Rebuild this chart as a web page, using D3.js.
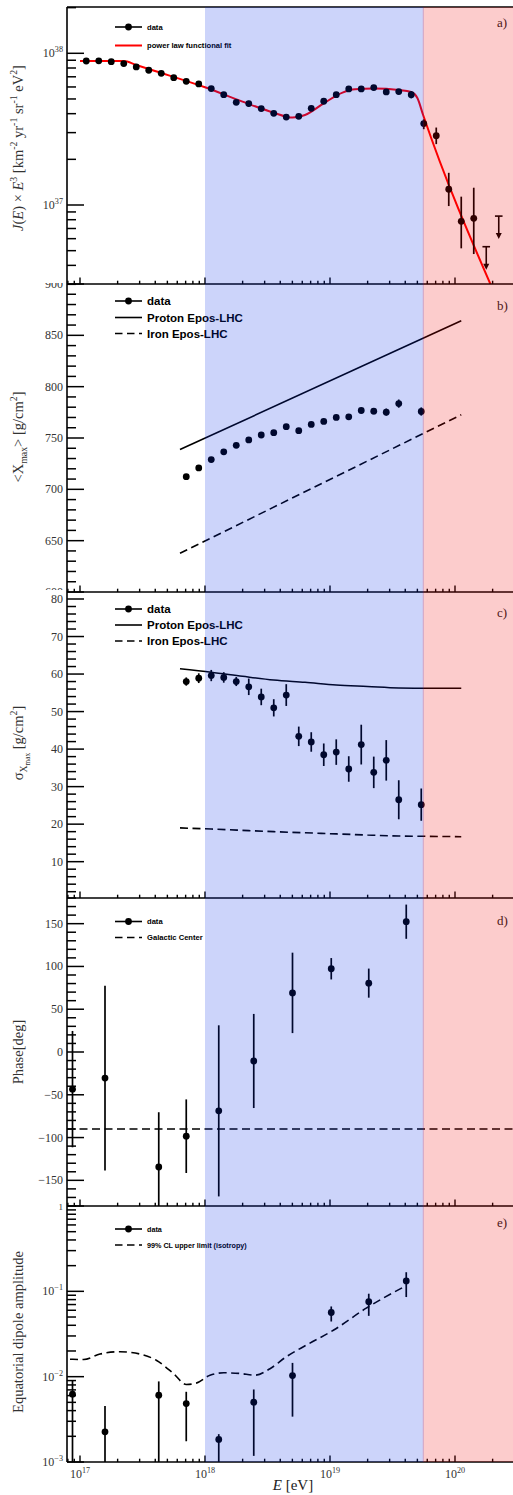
<!DOCTYPE html>
<html><head><meta charset="utf-8">
<script src="https://cdn.jsdelivr.net/npm/d3@7/dist/d3.min.js"></script>
<style>body{margin:0;background:#fff}svg{display:block}</style>
</head><body>
<svg id="c" width="513" height="1495"></svg>
<script>
// ---------------- DATA ----------------
// a) spectrum  (J x E^3, units of 1e37 km^-2 yr^-1 sr^-1 eV^2)
const specLogE = [17.05,17.15,17.25,17.35,17.45,17.55,17.65,17.75,17.85,17.95,18.05,18.15,18.25,18.35,18.45,18.55,18.65,18.75,18.85,18.95,19.05,19.15,19.25,19.35,19.45,19.55,19.65,19.75,19.85,19.95,20.05,20.15];
const specVal  = [8.90,8.92,8.81,8.55,8.13,7.73,7.38,6.91,6.54,6.28,5.85,5.34,4.75,4.66,4.32,4.02,3.80,3.84,4.34,4.83,5.34,5.82,5.82,5.94,5.56,5.59,5.34,3.44,2.86,1.27,0.78,0.817];
const specUp   = [0.05,0.05,0.05,0.05,0.05,0.05,0.05,0.05,0.05,0.05,0.06,0.07,0.12,0.20,0.08,0.07,0.08,0.09,0.10,0.11,0.12,0.13,0.14,0.16,0.18,0.20,0.30,0.23,0.38,0.36,0.355,0.483];
const specDn   = [0.05,0.05,0.05,0.05,0.05,0.05,0.05,0.05,0.05,0.05,0.06,0.07,0.12,0.20,0.08,0.07,0.08,0.09,0.10,0.11,0.12,0.13,0.14,0.16,0.18,0.20,0.30,0.28,0.34,0.286,0.262,0.342];
const specULLogE = [20.25,20.35];
const specULVal  = [0.531,0.845];
const fitLogE = [17.0,17.35,17.45,17.6,18.0,18.3,18.55,18.7,18.8,18.95,19.1,19.2,19.35,19.55,19.65,19.7,19.745,20.3];
const fitVal  = [8.90,8.90,8.38,7.65,5.97,4.80,4.06,3.77,3.92,4.68,5.51,5.79,5.85,5.73,5.56,5.05,3.92,0.28];

// b) <Xmax>, c) sigma(Xmax)
const xmaxLogE = [17.85,17.95,18.05,18.15,18.25,18.35,18.45,18.55,18.65,18.75,18.85,18.95,19.05,19.15,19.25,19.35,19.45,19.55,19.73];
const xmaxVal  = [712.3,720.9,729.0,736.5,742.9,748.1,752.9,755.2,761.0,757.1,763.2,766.1,770.0,770.6,776.8,776.1,775.2,783.5,775.8];
const xmaxErr  = [1,1,1,1,1,1,1,1.2,1.3,1.4,1.5,1.6,1.8,2,2.5,3,3.5,4,4];
const modelXmaxLogE = [17.8,20.05];
const protonXmax = [738.7,864.2];
const ironXmax   = [637.7,772.6];
const sigmaVal = [58.0,58.9,59.6,59.1,58.0,56.6,53.9,51.0,54.4,43.4,41.9,38.5,39.2,34.7,41.2,33.8,37.0,26.5,25.2];
const sigmaErr = [1.1,1.3,1.5,1.4,1.2,2.2,2.2,2.3,2.9,2.6,2.6,3.0,3.4,3.4,5.3,4.2,5.4,5.2,4.3];
const modelSigLogE = [17.8,18.05,18.3,18.55,18.8,19.05,19.3,19.55,19.8,20.05];
const protonSigma = [61.4,60.5,59.4,58.4,57.8,57.1,56.7,56.3,56.2,56.2];
const ironSigma   = [19.0,18.7,18.35,18.0,17.7,17.4,17.1,16.84,16.75,16.66];

// d) phase, e) amplitude of equatorial dipole
const dipLogE  = [16.94,17.20,17.63,17.85,18.11,18.39,18.70,19.01,19.31,19.61];
const phaseVal = [-43.4,-30.5,-134.4,-98.4,-68.8,-10.5,69.1,97.3,80.5,152.3];
const phaseErr = [68,108,64,43,100,55,47,12.5,17,20];
const galacticCenterPhase = -90;
const ampVal = [6.24e-3,2.26e-3,6.07e-3,4.84e-3,1.84e-3,5.02e-3,1.03e-2,5.65e-2,7.55e-2,0.1324];
const ampHi  = [9.05e-3,4.54e-3,8.8e-3,6.65e-3,2.12e-3,7.08e-3,1.45e-2,6.65e-2,9.38e-2,0.1675];
const ampLo  = [5e-4,5e-4,5e-4,1.75e-3,5e-4,1.18e-3,3.4e-3,4.43e-2,5.16e-2,8.57e-2];
const ulLogE = [16.92,17.03,17.16,17.32,17.48,17.61,17.75,17.85,17.93,18.04,18.15,18.28,18.40,18.52,18.65,18.81,19.03,19.29,19.61];
const ulVal  = [0.0160,0.0159,0.0184,0.0196,0.0184,0.0156,0.0108,0.0081,0.0084,0.0104,0.0111,0.0109,0.0104,0.0124,0.0171,0.0234,0.0352,0.0635,0.1167];

// bands (eV)
const bandBlue = [1e18, 5.58e19];
const xTickLabels = ["17","18","19","20"];

// ---------------- LAYOUT ----------------
const svg = d3.select('#c');
const serif = '"Liberation Serif","Times New Roman",serif';
const sans = '"Liberation Sans",Arial,Helvetica,sans-serif';
const L = 67, R = 513;
const E = v => Math.pow(10, v);
const x = d3.scaleLog().domain([1e17,1e20]).range([80,455]);

const panels = [
  {top:7,    bottom:284,  padTop:0,    padBottom:283,  y:d3.scaleLog().domain([1e37,1e38]).range([205,53.3])},
  {top:284,  bottom:592,  padTop:283,  padBottom:590,  y:d3.scaleLinear().domain([600,900]).range([592,284])},
  {top:592,  bottom:898,  padTop:590,  padBottom:897,  y:d3.scaleLinear().domain([0,80]).range([899.2,599])},
  {top:898,  bottom:1206, padTop:897,  padBottom:1204, y:d3.scaleLinear().domain([-180,180]).range([1206,898])},
  {top:1206, bottom:1462, padTop:1204, padBottom:1495, y:d3.scaleLog().domain([1e-3,1]).range([1462,1206])}
];
const defs = svg.append('defs');
panels.forEach((p,i)=>{
  defs.append('clipPath').attr('id','plot'+i).append('rect')
    .attr('x',L).attr('y',p.top).attr('width',R-L+5).attr('height',p.bottom-p.top);
  defs.append('clipPath').attr('id','pad'+i).append('rect')
    .attr('x',0).attr('y',p.padTop).attr('width',513).attr('height',p.padBottom-p.padTop);
});

function rich(t, parts, fs){
  let cur = 0;
  parts.forEach(pt=>{
    const target = pt.sup ? -fs*0.42 : (pt.sub ? fs*0.28 : (pt.sub2 ? fs*0.45 : 0));
    const ts = t.append('tspan').text(pt.t).attr('dy', target-cur);
    if (pt.sup || pt.sub) ts.attr('font-size', fs*0.68);
    if (pt.sub2) ts.attr('font-size', fs*0.5);
    if (pt.it) ts.attr('font-style','italic');
    cur = target;
  });
}

function errBars(g, xs, ys, lo, hi, y){
  g.selectAll(null).data(xs).enter().append('line')
    .attr('x1',(d)=>x(E(d))).attr('x2',(d)=>x(E(d)))
    .attr('y1',(d,i)=>y(hi[i])).attr('y2',(d,i)=>y(lo[i]))
    .attr('stroke','#000').attr('stroke-width',1.7);
  g.selectAll(null).data(xs).enter().append('circle')
    .attr('cx',(d)=>x(E(d))).attr('cy',(d,i)=>y(ys[i])).attr('r',3.4).attr('fill','#000');
}

function legend(i, y, kind, label, fs){
  const g = svg.append('g');
  const ln = g.append('line').attr('x1',115).attr('x2',142).attr('y1',y).attr('y2',y)
    .attr('stroke', kind==='red' ? '#ff0000' : '#000')
    .attr('stroke-width', kind==='red' ? 2 : 1.6);
  if (kind==='dash') ln.attr('stroke-dasharray','7.5,4.5');
  if (kind==='data') g.append('circle').attr('cx',128.5).attr('cy',y).attr('r',3.4).attr('fill','#000');
  g.append('text').attr('x',147).attr('y',y+fs*0.36).attr('font-family',sans).attr('font-weight','bold')
    .attr('font-size',fs).attr('fill','#000').text(label);
}

// ---------- panel a ----------
{
  const p = panels[0], y = p.y, g = svg.append('g').attr('clip-path','url(#plot0)');
  const line = d3.line().x(d=>x(E(d[0]))).y(d=>y(d[1]*1e37)).curve(d3.curveMonotoneX);
  g.append('path').datum(fitLogE.map((d,i)=>[d,fitVal[i]])).attr('d',line)
    .attr('fill','none').attr('stroke','#ff0000').attr('stroke-width',2);
  errBars(g, specLogE, specVal.map(v=>v*1e37),
    specVal.map((v,i)=>(v-specDn[i])*1e37), specVal.map((v,i)=>(v+specUp[i])*1e37), y);
  specULLogE.forEach((d,i)=>{
    const xx = x(E(d)), yy = y(specULVal[i]*1e37);
    g.append('line').attr('x1',xx-3.8).attr('x2',xx+3.8).attr('y1',yy).attr('y2',yy).attr('stroke','#000').attr('stroke-width',1.6);
    g.append('line').attr('x1',xx).attr('x2',xx).attr('y1',yy).attr('y2',yy+19).attr('stroke','#000').attr('stroke-width',1.6);
    g.append('path').attr('d',`M${xx-3},${yy+17}L${xx+3},${yy+17}L${xx},${yy+23}Z`).attr('fill','#000');
  });
  legend(0, 27, 'data', 'data', 7.6);
  legend(0, 45.5, 'red', 'power law functional fit', 7.6);
}
// ---------- panel b ----------
{
  const p = panels[1], y = p.y, g = svg.append('g').attr('clip-path','url(#plot1)');
  const mk = arr => modelXmaxLogE.map((d,i)=>[d,arr[i]]);
  const line = d3.line().x(d=>x(E(d[0]))).y(d=>y(d[1]));
  g.append('path').datum(mk(protonXmax)).attr('d',line).attr('fill','none').attr('stroke','#000').attr('stroke-width',1.6);
  g.append('path').datum(mk(ironXmax)).attr('d',line).attr('fill','none').attr('stroke','#000').attr('stroke-width',1.6).attr('stroke-dasharray','8,4.5');
  errBars(g, xmaxLogE, xmaxVal, xmaxVal.map((v,i)=>v-xmaxErr[i]), xmaxVal.map((v,i)=>v+xmaxErr[i]), y);
  legend(1, 301, 'data', 'data', 11.5);
  legend(1, 317.5, 'line', 'Proton Epos-LHC', 11.5);
  legend(1, 333.5, 'dash', 'Iron Epos-LHC', 11.5);
}
// ---------- panel c ----------
{
  const p = panels[2], y = p.y, g = svg.append('g').attr('clip-path','url(#plot2)');
  const mk = arr => modelSigLogE.map((d,i)=>[d,arr[i]]);
  const line = d3.line().x(d=>x(E(d[0]))).y(d=>y(d[1])).curve(d3.curveMonotoneX);
  g.append('path').datum(mk(protonSigma)).attr('d',line).attr('fill','none').attr('stroke','#000').attr('stroke-width',1.6);
  g.append('path').datum(mk(ironSigma)).attr('d',line).attr('fill','none').attr('stroke','#000').attr('stroke-width',1.6).attr('stroke-dasharray','8,4.5');
  errBars(g, xmaxLogE, sigmaVal, sigmaVal.map((v,i)=>v-sigmaErr[i]), sigmaVal.map((v,i)=>v+sigmaErr[i]), y);
  legend(2, 609, 'data', 'data', 11.5);
  legend(2, 625, 'line', 'Proton Epos-LHC', 11.5);
  legend(2, 641, 'dash', 'Iron Epos-LHC', 11.5);
}
// ---------- panel d ----------
{
  const p = panels[3], y = p.y, g = svg.append('g').attr('clip-path','url(#plot3)');
  g.append('line').attr('x1',L).attr('x2',R).attr('y1',y(galacticCenterPhase)).attr('y2',y(galacticCenterPhase))
    .attr('stroke','#000').attr('stroke-width',1.6).attr('stroke-dasharray','8,4.5');
  errBars(g, dipLogE, phaseVal, phaseVal.map((v,i)=>v-phaseErr[i]), phaseVal.map((v,i)=>v+phaseErr[i]), y);
  legend(3, 921.5, 'data', 'data', 7.6);
  legend(3, 937.5, 'dash', 'Galactic Center', 7.6);
}
// ---------- panel e ----------
{
  const p = panels[4], y = p.y, g = svg.append('g').attr('clip-path','url(#plot4)');
  const line = d3.line().x(d=>x(E(d[0]))).y(d=>y(d[1])).curve(d3.curveMonotoneX);
  g.append('path').datum(ulLogE.map((d,i)=>[d,ulVal[i]])).attr('d',line).attr('fill','none')
    .attr('stroke','#000').attr('stroke-width',1.6).attr('stroke-dasharray','8,4.5');
  errBars(g, dipLogE, ampVal, ampLo, ampHi, y);
  legend(4, 1229, 'data', 'data', 7.2);
  legend(4, 1245, 'dash', '99% CL upper limit (isotropy)', 7.2);
}

// ---------------- AXES ----------------
const ax = svg.append('g').attr('stroke','#000');
function linTicks(i, step, minor, labels){
  const p = panels[i], y = p.y, [d0,d1] = [y.invert(p.bottom), y.invert(p.top)];
  const lab = svg.append('g').attr('clip-path',`url(#pad${i})`);
  for (let v = Math.ceil(d0/minor)*minor; v <= d1+1e-9; v += minor) {
    const vv = Math.round(v*1000)/1000;
    const isMaj = Math.abs(vv/step - Math.round(vv/step)) < 1e-6;
    ax.append('line').attr('x1',L).attr('x2',L+(isMaj?17:9)).attr('y1',y(vv)).attr('y2',y(vv)).attr('stroke-width',1.5);
  }
  labels.forEach(v=>{
    lab.append('text').attr('x',63).attr('y',y(v)+4).attr('text-anchor','end')
      .attr('font-family',serif).attr('font-size',12).attr('fill','#333')
      .text(String(v).replace('-','\u2212'));
  });
}
function logTicks(i, decs, labels){
  const p = panels[i], y = p.y;
  const lab = svg.append('g').attr('clip-path',`url(#pad${i})`);
  decs.forEach(n=>{
    for (let k=1;k<10;k++){
      const v = k*Math.pow(10,n), yy = y(v);
      if (yy < p.top-0.5 || yy > p.bottom+0.5) continue;
      ax.append('line').attr('x1',L).attr('x2',L+(k===1?17:9)).attr('y1',yy).attr('y2',yy).attr('stroke-width',1.5);
    }
  });
  labels.forEach(([n,txt])=>{
    const t = lab.append('text').attr('x',63).attr('y',y(Math.pow(10,n))+4).attr('text-anchor','end')
      .attr('font-family',serif).attr('font-size',12).attr('fill','#333');
    if (txt===null) t.text('1').attr('font-size',9);
    else rich(t, [{t:'10'},{t:txt,sup:true}], 12);
  });
}
logTicks(0, [36,37,38], [[38,'38'],[37,'37']]);
linTicks(1, 50, 10, [600,650,700,750,800,850,900]);
linTicks(2, 10, 2, [10,20,30,40,50,60,70,80]);
linTicks(3, 50, 10, [-150,-100,-50,0,50,100,150]);
logTicks(4, [-3,-2,-1,0], [[0,null],[-1,'\u22121'],[-2,'\u22122'],[-3,'\u22123']]);

// left axis line and top frame
ax.append('line').attr('x1',L).attr('x2',L).attr('y1',7).attr('y2',1462).attr('stroke-width',1.6);
ax.append('line').attr('x1',L).attr('x2',R).attr('y1',7).attr('y2',7).attr('stroke-width',1.6);
// bottom axes of each panel
panels.forEach(p=>{
  ax.append('line').attr('x1',L).attr('x2',R).attr('y1',p.bottom).attr('y2',p.bottom).attr('stroke-width',1.6);
  [16,17,18,19,20].forEach(n=>{
    for (let k=1;k<10;k++){
      const xx = x(k*Math.pow(10,n));
      if (xx < L+0.5 || xx > R) continue;
      ax.append('line').attr('x1',xx).attr('x2',xx).attr('y1',p.bottom).attr('y2',p.bottom-(k===1?6.5:3.3)).attr('stroke-width',1.4);
    }
  });
});
// x tick labels
xTickLabels.forEach(s=>{
  const t = svg.append('text').attr('x',x(Math.pow(10,+s))).attr('y',1478).attr('text-anchor','middle')
    .attr('font-family',serif).attr('font-size',12).attr('fill','#333');
  rich(t, [{t:'10'},{t:s,sup:true}], 12);
});
{
  const t = svg.append('text').attr('x',293).attr('y',1490).attr('text-anchor','middle')
    .attr('font-family',serif).attr('font-size',15).attr('fill','#222');
  rich(t, [{t:'E',it:true},{t:' [eV]'}], 15);
}
// y titles
function ytitle(cy, parts, fs){
  const t = svg.append('text').attr('transform',`translate(23,${cy}) rotate(-90)`).attr('text-anchor','middle')
    .attr('font-family',serif).attr('font-size',fs).attr('fill','#333');
  rich(t, parts, fs);
}
ytitle(148, [{t:'J',it:true},{t:'('},{t:'E',it:true},{t:') \u00d7 '},{t:'E',it:true},{t:'3',sup:true},{t:' [km'},{t:'-2',sup:true},{t:' yr'},{t:'-1',sup:true},{t:' sr'},{t:'-1',sup:true},{t:' eV'},{t:'2',sup:true},{t:']'}], 14.5);
ytitle(437, [{t:'<X'},{t:'max',sub:true},{t:'> [g/cm'},{t:'2',sup:true},{t:']'}], 14.5);
ytitle(743, [{t:'\u03c3'},{t:'X',sub:true},{t:'max',sub2:true},{t:'  [g/cm'},{t:'2',sup:true},{t:']'}], 14.5);
ytitle(1052, [{t:'Phase[deg]'}], 14.5);
ytitle(1332, [{t:'Equatorial dipole amplitude'}], 14.5);

// panel letters
[['a)',27],['b)',310],['c)',617],['d)',925],['e)',1227]].forEach(([s,yy])=>{
  svg.append('text').attr('x',497).attr('y',yy).attr('font-family',serif).attr('font-size',13).attr('fill','#222').text(s);
});

// ---------------- BANDS (translucent overlay) ----------------
svg.append('rect').attr('x',x(bandBlue[0])).attr('y',7).attr('width',x(bandBlue[1])-x(bandBlue[0])+0.6)
  .attr('height',1462-7).attr('fill','rgb(0,40,230)').attr('fill-opacity',0.2);
svg.append('rect').attr('x',x(bandBlue[1])-0.6).attr('y',7).attr('width',R-x(bandBlue[1])+1)
  .attr('height',1462-7).attr('fill','rgb(240,0,0)').attr('fill-opacity',0.2);
</script>
</body></html>
